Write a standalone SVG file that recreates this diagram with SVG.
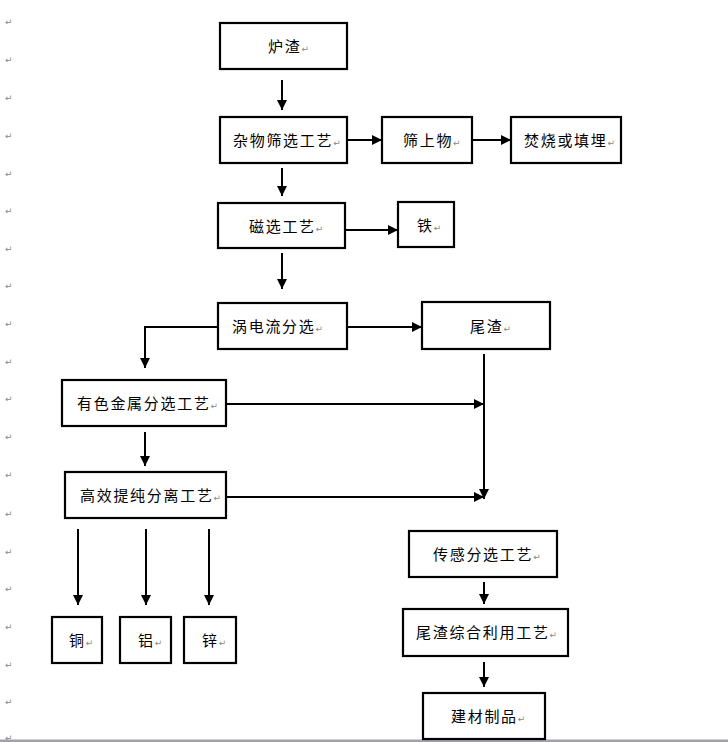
<svg xmlns="http://www.w3.org/2000/svg" width="728" height="742" viewBox="0 0 728 742">
<style>
.box{fill:#fff;stroke:#000;stroke-width:2.2}
.t{font-family:"Noto Sans CJK SC","Noto Sans",sans-serif;font-size:15px;letter-spacing:1.7px;fill:#000}
.pm{font-family:"DejaVu Sans",sans-serif;font-size:9px;fill:#888;letter-spacing:0}
.ln{fill:none;stroke:#000;stroke-width:2}
.mg{font-family:"DejaVu Sans",sans-serif;font-size:9px;fill:#888}
</style>
<defs>
<marker id="ah" viewBox="0 0 10 10" refX="10" refY="5" markerWidth="10" markerHeight="10" markerUnits="userSpaceOnUse" orient="auto">
<path d="M0,0 L10,5 L0,10 z" fill="#000"/>
</marker>
</defs>
<rect width="728" height="742" fill="#fff"/>
<g id="margin-marks">
<text class="mg" x="5" y="25">↵</text>
<text class="mg" x="5" y="63">↵</text>
<text class="mg" x="5" y="101">↵</text>
<text class="mg" x="5" y="139">↵</text>
<text class="mg" x="5" y="177">↵</text>
<text class="mg" x="5" y="214">↵</text>
<text class="mg" x="5" y="252">↵</text>
<text class="mg" x="5" y="289">↵</text>
<text class="mg" x="5" y="327">↵</text>
<text class="mg" x="5" y="365">↵</text>
<text class="mg" x="5" y="402">↵</text>
<text class="mg" x="5" y="440">↵</text>
<text class="mg" x="5" y="478">↵</text>
<text class="mg" x="5" y="517">↵</text>
<text class="mg" x="5" y="555">↵</text>
<text class="mg" x="5" y="592">↵</text>
<text class="mg" x="5" y="630">↵</text>
<text class="mg" x="5" y="668">↵</text>
<text class="mg" x="5" y="705">↵</text>
<text class="mg" x="5" y="741">↵</text>
</g>
<rect x="0" y="739.5" width="728" height="2.5" fill="#a0a2a8"/>
<g id="connectors">
<line class="ln" x1="282" y1="80" x2="282" y2="110" marker-end="url(#ah)"/>
<line class="ln" x1="282" y1="168" x2="282" y2="196" marker-end="url(#ah)"/>
<line class="ln" x1="347" y1="140" x2="382" y2="140" marker-end="url(#ah)"/>
<line class="ln" x1="472" y1="140" x2="511" y2="140" marker-end="url(#ah)"/>
<line class="ln" x1="345" y1="230" x2="398" y2="230" marker-end="url(#ah)"/>
<line class="ln" x1="282" y1="253" x2="282" y2="289" marker-end="url(#ah)"/>
<line class="ln" x1="347" y1="327" x2="422" y2="327" marker-end="url(#ah)"/>
<polyline class="ln" points="218,327 145,327 145,368" marker-end="url(#ah)"/>
<line class="ln" x1="484" y1="354" x2="484" y2="499" marker-end="url(#ah)"/>
<line class="ln" x1="226" y1="404" x2="484" y2="404" marker-end="url(#ah)"/>
<line class="ln" x1="226" y1="497" x2="484" y2="497" marker-end="url(#ah)"/>
<line class="ln" x1="145" y1="432" x2="145" y2="466" marker-end="url(#ah)"/>
<line class="ln" x1="78" y1="529" x2="78" y2="605" marker-end="url(#ah)"/>
<line class="ln" x1="146" y1="529" x2="146" y2="605" marker-end="url(#ah)"/>
<line class="ln" x1="209" y1="529" x2="209" y2="605" marker-end="url(#ah)"/>
<line class="ln" x1="484" y1="582" x2="484" y2="604" marker-end="url(#ah)"/>
<line class="ln" x1="484" y1="662" x2="484" y2="687" marker-end="url(#ah)"/>
</g>
<g id="n-luzha"><rect class="box" x="220" y="23" width="127" height="46"/><text class="t" x="268" y="52">炉渣<tspan class="pm">↵</tspan></text></g>
<g id="n-zawu"><rect class="box" x="220" y="117" width="127" height="46"/><text class="t" x="233" y="146">杂物筛选工艺<tspan class="pm">↵</tspan></text></g>
<g id="n-shangwu"><rect class="box" x="382" y="117" width="90" height="46"/><text class="t" x="403" y="146">筛上物<tspan class="pm">↵</tspan></text></g>
<g id="n-fenshao"><rect class="box" x="511" y="117" width="110" height="46"/><text class="t" x="524" y="146">焚烧或填埋<tspan class="pm">↵</tspan></text></g>
<g id="n-cixuan"><rect class="box" x="218" y="203" width="127" height="45"/><text class="t" x="249" y="232">磁选工艺<tspan class="pm">↵</tspan></text></g>
<g id="n-tie"><rect class="box" x="398" y="202" width="56" height="45"/><text class="t" x="417" y="231">铁<tspan class="pm">↵</tspan></text></g>
<g id="n-wodianliu"><rect class="box" x="218" y="303" width="129" height="46"/><text class="t" x="232" y="332">涡电流分选<tspan class="pm">↵</tspan></text></g>
<g id="n-weizha"><rect class="box" x="422" y="302" width="128" height="47"/><text class="t" x="470" y="332">尾渣<tspan class="pm">↵</tspan></text></g>
<g id="n-youse"><rect class="box" x="62" y="380" width="164" height="46"/><text class="t" x="77" y="409">有色金属分选工艺<tspan class="pm">↵</tspan></text></g>
<g id="n-gaoxiao"><rect class="box" x="65" y="472" width="161" height="46"/><text class="t" x="80" y="501">高效提纯分离工艺<tspan class="pm">↵</tspan></text></g>
<g id="n-tong"><rect class="box" x="52" y="617" width="50" height="46"/><text class="t" x="69" y="646">铜<tspan class="pm">↵</tspan></text></g>
<g id="n-lv"><rect class="box" x="120" y="617" width="51" height="46"/><text class="t" x="138" y="646">铝<tspan class="pm">↵</tspan></text></g>
<g id="n-xin"><rect class="box" x="184" y="617" width="52" height="46"/><text class="t" x="202" y="646">锌<tspan class="pm">↵</tspan></text></g>
<g id="n-chuangan"><rect class="box" x="409" y="531" width="148" height="46"/><text class="t" x="433" y="560">传感分选工艺<tspan class="pm">↵</tspan></text></g>
<g id="n-zonghe"><rect class="box" x="403" y="609" width="165" height="47"/><text class="t" x="416" y="638">尾渣综合利用工艺<tspan class="pm">↵</tspan></text></g>
<g id="n-jiancai"><rect class="box" x="423" y="693" width="122" height="46"/><text class="t" x="451" y="722">建材制品<tspan class="pm">↵</tspan></text></g>
</svg>
